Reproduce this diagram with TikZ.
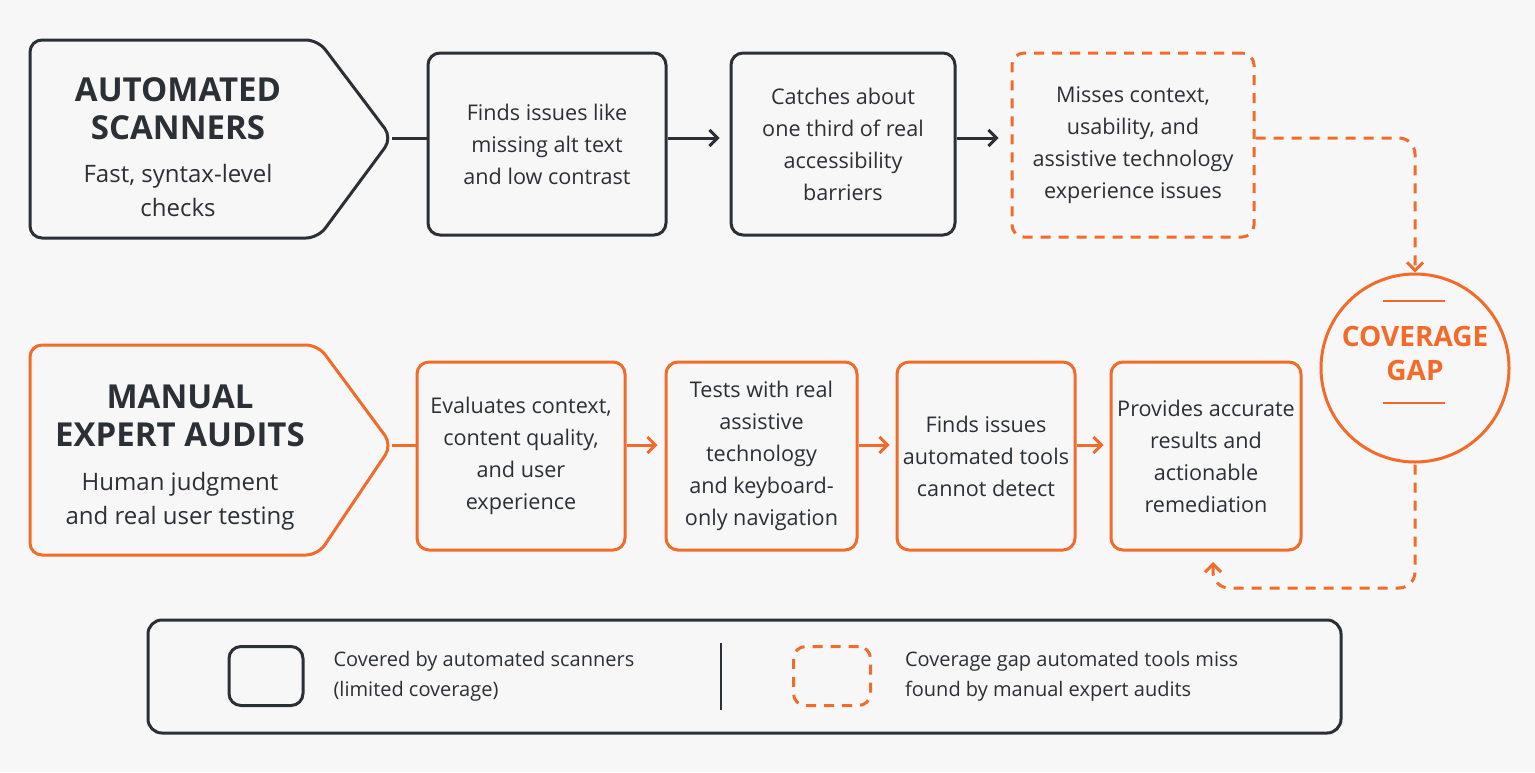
\documentclass[tikz,border=0pt]{standalone}
\usepackage{fontspec}
\setmainfont{Open Sans}
\usetikzlibrary{positioning,arrows.meta}
\definecolor{ink}{HTML}{2B3036}
\definecolor{accent}{HTML}{F26B2A}
\tikzset{
    stage/.style = {draw=ink, line width=1.5pt, rounded corners=6pt, align=center,
                   text=ink, font=\fontsize{10.8}{16}\selectfont, inner sep=0pt},
    gapstage/.style = {stage, draw=accent, dashed, dash pattern=on 5pt off 4pt},
    manstage/.style = {stage, draw=accent},
    flow/.style = {line width=1.5pt, -{Straight Barb[length=4pt,width=8pt]}},
    title/.style = {font=\fontsize{16.5}{19}\bfseries\selectfont, align=center},
    sub/.style = {font=\fontsize{12}{17}\selectfont, align=center},
    legend/.style = {font=\fontsize{10}{15}\selectfont, align=left, anchor=west, text=ink},
}
\begin{document}
\begin{tikzpicture}[x=0.5pt, y=-0.5pt]
    \fill[white!97!black] (0,0) rectangle (1535,772);
    \useasboundingbox (0,0) rectangle (1535,772);

    % automated scanners
    \draw[ink, line width=1.5pt, rounded corners=6pt] (30,40) -- (318,40) -- (392,138)
        -- (318,238) -- (30,238) -- cycle;
    \coordinate (autotip) at (392,138);
    \node[title, text=ink] (autotitle) at (178,109) {AUTOMATED\\SCANNERS};
    \node[sub, text=ink] (autosub) at (178,190) {Fast, syntax-level\\checks};

    \node[stage, minimum width=119pt, minimum height=91pt] (finds) at (547,144)
        {Finds issues like\\missing alt text\\and low contrast};
    \node[stage, minimum width=112pt, minimum height=91pt] (catches) at (843,144)
        {Catches about\\one third of real\\accessibility\\barriers};
    \node[gapstage, minimum width=121pt, minimum height=92pt] (misses) at (1133,145)
        {Misses context,\\usability, and\\assistive technology\\experience issues};

    \draw[ink, line width=1.5pt] (autotip) -- (finds.west |- autotip);
    \draw[flow, ink] (finds.east |- autotip) -- ++(52,0);
    \draw[flow, ink] (catches.east |- autotip) -- ++(42,0);

    % coverage gap
    \node[circle, draw=accent, line width=1.5pt, minimum size=94pt, text=accent,
          font=\fontsize{14}{17}\bfseries\selectfont, align=center] (gap) at (1415,368)
        {};
    \node[text=accent, font=\fontsize{14}{17}\bfseries\selectfont, align=center]
        (gaptext) at (1415,353) {COVERAGE\\GAP};
    \draw[accent, line width=1.2pt] (1383,301) -- (1445,301);
    \draw[accent, line width=1.2pt] (1383,403) -- (1445,403);
    \draw[flow, accent, dashed, dash pattern=on 5pt off 4pt, rounded corners=8pt]
        (misses.east |- autotip) -- (1415,138) -- (gap.north);

    % manual expert audits
    \draw[accent, line width=1.5pt, rounded corners=6pt] (30,345) -- (318,345) -- (392,445)
        -- (318,555) -- (30,555) -- cycle;
    \coordinate (mantip) at (392,445);
    \node[title, text=ink] (mantitle) at (180,416) {MANUAL\\EXPERT AUDITS};
    \node[sub, text=ink] (mansub) at (180,501) {Human judgment\\and real user testing};

    \node[manstage, minimum width=104pt, minimum height=94pt] (evaluates) at (521,456)
        {Evaluates context,\\content quality,\\and user\\experience};
    \node[manstage, minimum width=95.5pt, minimum height=94pt] (tests) at (761.5,456)
        {Tests with real\\assistive\\technology\\and keyboard-\\only navigation};
    \node[manstage, minimum width=89pt, minimum height=94pt] (detect) at (986,456)
        {Finds issues\\automated tools\\cannot detect};
    \node[manstage, minimum width=95pt, minimum height=94pt] (remedy) at (1206,456)
        {Provides accurate\\results and\\actionable\\remediation};

    \draw[accent, line width=1.5pt] (mantip) -- (evaluates.west |- mantip);
    \draw[flow, accent] (evaluates.east |- mantip) -- ++(31,0);
    \draw[flow, accent] (tests.east |- mantip) -- ++(31,0);
    \draw[flow, accent] (detect.east |- mantip) -- ++(27,0);
    \coordinate (backin) at (1213,562);
    \draw[flow, accent, {Straight Barb[length=4pt,width=8pt]}-, dashed,
          dash pattern=on 5pt off 4pt, rounded corners=8pt]
        (backin) -- (1213,588) -- (1415,588) -- (gap.south);

    % legend
    \draw[ink, line width=1.5pt, rounded corners=7pt] (148,620) rectangle (1341,733);
    \node[stage, minimum width=37pt, minimum height=29.5pt] (keyauto) at (266,676) {};
    \node[legend, right=11pt of keyauto] (keyautotext)
        {Covered by automated scanners\\(limited coverage)};
    \draw[ink, line width=1pt] (721,643) -- (721,710);
    \node[gapstage, minimum width=38.5pt, minimum height=29.5pt] (keygap) at (832,676) {};
    \node[legend, right=13pt of keygap] (keygaptext)
        {Coverage gap automated tools miss\\found by manual expert audits};
\end{tikzpicture}
\end{document}
